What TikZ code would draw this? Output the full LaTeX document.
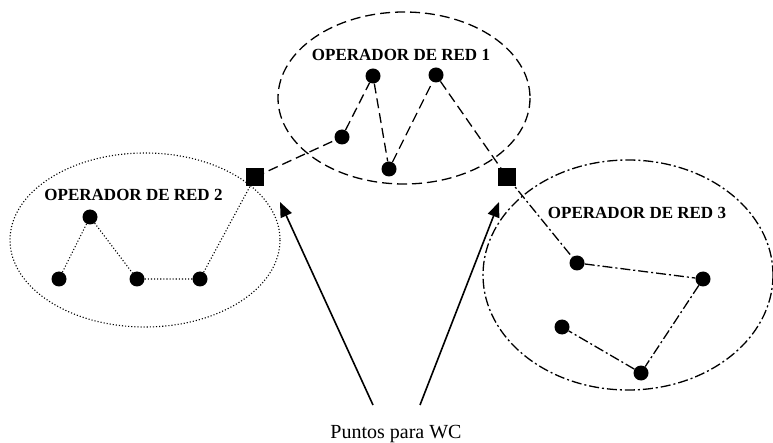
\documentclass[tikz,border=0pt]{standalone}
\usepackage{fontspec}
\setmainfont{Liberation Serif}
\usetikzlibrary{arrows.meta}
\begin{document}
\begin{tikzpicture}[x=1pt,y=-1pt,
  dot/.style={circle,fill=black,inner sep=0pt,minimum size=15pt},
  port/.style={rectangle,fill=black,inner sep=0pt,minimum size=18pt},
  title/.style={anchor=base,inner sep=0pt,font=\fontsize{17}{19}\selectfont\bfseries},
  net1/.style={line width=1.3pt,dash pattern=on 10pt off 5pt},
  net2/.style={line width=1.1pt,dash pattern=on 1.1pt off 2pt},
  net3/.style={line width=1.3pt,dash pattern=on 10pt off 3pt on 2pt off 3pt},
  pointer/.style={line width=1.6pt,-{Triangle[length=15pt,width=12pt]}}]
\useasboundingbox (0,0) rectangle (773,443);

% network boundaries
\draw[net1] (404,98) ellipse [x radius=126, y radius=86];
\draw[net2] (145,240) ellipse [x radius=135, y radius=87];
\draw[net3] (628,275) ellipse [x radius=145, y radius=115];

% titles
\node[title] (t1) at (401,61) {OPERADOR DE RED 1};
\node[title] (t2) at (133.5,201) {OPERADOR DE RED 2};
\node[title] (t3) at (637,219) {OPERADOR DE RED 3};

% interconnection points
\node[port] (p1) at (255,177) {};
\node[port] (p2) at (507,177) {};

% network 1 nodes
\node[dot] (a1) at (342,137) {};
\node[dot] (a2) at (373,76) {};
\node[dot] (a3) at (389,169) {};
\node[dot] (a4) at (436,75) {};

% network 2 nodes
\node[dot] (b1) at (59,279) {};
\node[dot] (b2) at (90,217) {};
\node[dot] (b3) at (137,279) {};
\node[dot] (b4) at (200,279) {};

% network 3 nodes
\node[dot] (c1) at (577,263) {};
\node[dot] (c2) at (703,279) {};
\node[dot] (c3) at (641,373) {};
\node[dot] (c4) at (562,327) {};

% links
\draw[net1] (p1.center) -- (a1) -- (a2) -- (a3) -- (a4) -- (p2.center);
\draw[net2] (b1) -- (b2) -- (b3) -- (b4) -- (p1.center);
\draw[net3] (p2.center) -- (c1) -- (c2) -- (c3) -- (c4);

% label and pointers
\node[anchor=base,inner sep=0pt] (wc) at (396,438) {\fontsize{20}{22}\selectfont Puntos para WC};
\coordinate (w1) at (373,405);
\coordinate (w2) at (420,405);
\coordinate (h1) at (280,202);
\coordinate (h2) at (499,202);
\draw[pointer] (w1) -- (h1);
\draw[pointer] (w2) -- (h2);
\end{tikzpicture}
\end{document}
